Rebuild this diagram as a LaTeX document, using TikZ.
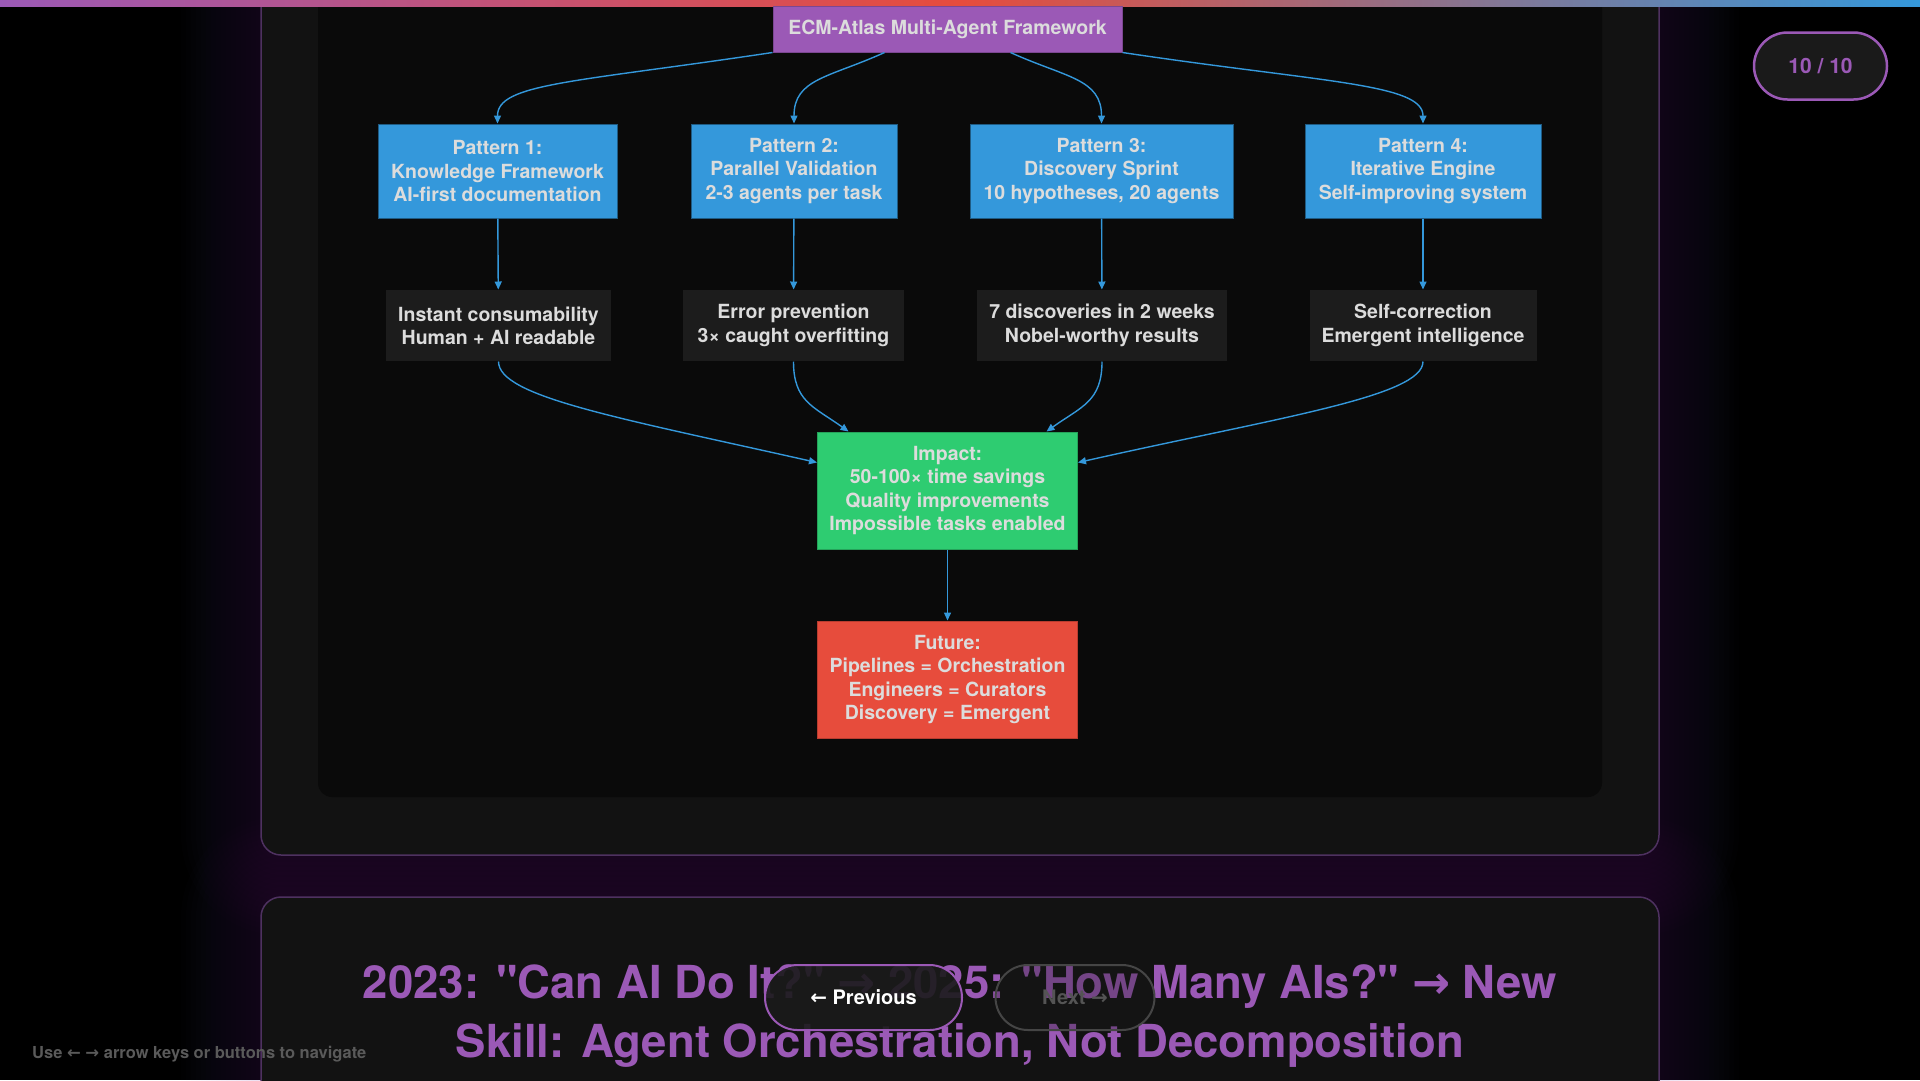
\documentclass[tikz,border=0pt]{standalone}
\usepackage{fontspec}
\usepackage{xcolor}
\usepackage{tikz}
\setmainfont{TeX Gyre Heros}[Ligatures=TeXOff]
\newfontfamily\arrowfont{DejaVu Sans}
\usetikzlibrary{positioning,calc,arrows.meta}

\definecolor{panelbg}{HTML}{121212}
\definecolor{innerbg}{HTML}{0A0A0A}
\definecolor{panelline}{HTML}{4E3160}
\definecolor{accent}{HTML}{9B59B6}
\definecolor{flowblue}{HTML}{3498DB}
\definecolor{flowred}{HTML}{E74C3C}
\definecolor{flowgreen}{HTML}{2ECC71}
\definecolor{notebg}{HTML}{1C1C1C}
\definecolor{boxtext}{HTML}{DCDCDC}
\definecolor{pillbg}{HTML}{1A1A1A}
\definecolor{hinttext}{HTML}{5A5A5A}

\newcommand{\boxfont}{\fontsize{19.5}{23.3}\selectfont\bfseries}
\newcommand{\arrL}{{\arrowfont ←}}
\newcommand{\arrR}{{\arrowfont →}}

\tikzset{
  flow/.style={draw=flowblue, line width=1.4pt, -{Triangle[length=8pt,width=7pt]}},
  fbox/.style={align=center, text=boxtext, font=\boxfont, inner sep=0pt, line width=1pt},
  patternbox/.style={fbox, fill=flowblue, draw=flowblue!60!black, minimum height=94},
  notebox/.style={fbox, fill=notebg, minimum height=71},
  pill/.style={rounded corners=32.5, line width=2pt, minimum height=65, inner sep=0pt}
}

\begin{document}
\begin{tikzpicture}[x=1pt,y=-1pt]
    \useasboundingbox (0,0) rectangle (1920,1080);
    \clip (0,0) rectangle (1920,1080);
    \fill[black] (0,0) rectangle (1920,1080);

    % Glow round the panels
    \foreach \g in {5,10,...,80} {
        \fill[accent, fill opacity=0.01, rounded corners=20+\g] (261-\g,-120) rectangle (1659+\g,855+\g);
        \fill[accent, fill opacity=0.01, rounded corners=20+\g] (261-\g,897-\g) rectangle (1659+\g,1250);
    }

    % Panels
    \draw[panelline, line width=1.5pt, fill=panelbg, rounded corners=20] (261,-120) rectangle (1659,855);
    \fill[innerbg, rounded corners=14] (318,-120) rectangle (1602,797);
    \draw[panelline, line width=1.5pt, fill=panelbg, rounded corners=20] (261,897) rectangle (1659,1250);

    % Top bar
    \shade[left color=accent, right color=flowred] (0,0) rectangle (960,6);
    \shade[left color=flowred, right color=flowblue] (960,0) rectangle (1920,6);

    % Framework
    \node[fbox, fill=accent, draw=accent!80!black, minimum width=349, minimum height=46] (title) at (947.5,29) {ECM-Atlas Multi-Agent Framework};

    % Patterns and their results
    \foreach \n/\x/\w/\t in {1/497.5/239/{Pattern 1:\\Knowledge Framework\\AI-first documentation},
                             2/794/206/{Pattern 2:\\Parallel Validation\\2-3 agents per task},
                             3/1101.5/263/{Pattern 3:\\Discovery Sprint\\10 hypotheses, 20 agents},
                             4/1423/236/{Pattern 4:\\Iterative Engine\\Self-improving system}} {
        \node[patternbox, minimum width=\w] (p\n) at (\x,171) {\t};
    }
    \foreach \n/\x/\w/\t in {1/498.5/225/{Instant consumability\\Human + AI readable},
                             2/793.5/221/{Error prevention\\3× caught overfitting},
                             3/1102/250/{7 discoveries in 2 weeks\\Nobel-worthy results},
                             4/1423/227/{Self-correction\\Emergent intelligence}} {
        \node[notebox, minimum width=\w] (r\n) at (\x,325.5) {\t};
        \draw[flow] (p\n) -- (r\n);
    }

    % Impact and future
    \node[fbox, fill=flowgreen, draw=flowgreen!80!black, minimum width=260, minimum height=117] (impact) at (947.5,490.5) {Impact:\\50-100× time savings\\Quality improvements\\Impossible tasks enabled};
    \node[fbox, fill=flowred, draw=flowred!80!black, minimum width=260, minimum height=117] (future) at (947.5,679.5) {Future:\\Pipelines = Orchestration\\Engineers = Curators\\Discovery = Emergent};

    % Framework to patterns
    \draw[flow] (title.south west) .. controls +(-200,30) and +(0,-40) .. (p1.north);
    \draw[flow] ($(title.south west)!0.32!(title.south east)$) .. controls +(-55,25) and +(0,-45) .. (p2.north);
    \draw[flow] ($(title.south west)!0.68!(title.south east)$) .. controls +(55,25) and +(0,-45) .. (p3.north);
    \draw[flow] (title.south east) .. controls +(200,30) and +(0,-40) .. (p4.north);

    % Results to impact
    \draw[flow] (r1.south) .. controls +(0,35) and +(-200,-45) .. ($(impact.west)+(0,-28)$);
    \draw[flow] (r2.south) .. controls +(0,40) and +(-35,-25) .. ($(impact.north)+(-99,0)$);
    \draw[flow] (r3.south) .. controls +(0,40) and +(35,-25) .. ($(impact.north)+(99,0)$);
    \draw[flow] (r4.south) .. controls +(0,35) and +(200,-45) .. ($(impact.east)+(0,-28)$);
    \draw[flow] (impact) -- (future);

    % Slide title
    \node[align=center, text=accent, font=\fontsize{45.5}{59}\selectfont\bfseries] (headline) at (960,1016) {2023: "Can AI Do It?" \arrR{} 2025: "How Many AIs?" \arrR{} New\\Skill: Agent Orchestration, Not Decomposition};

    % Navigation
    \node[pill, fill=pillbg, fill opacity=0.9, text opacity=1, draw=accent, minimum width=197, text=white, font=\fontsize{20}{23}\selectfont\bfseries] (prev) at (863.5,997.5) {\arrL{} Previous};
    \node[pill, fill=pillbg, fill opacity=0.3, text opacity=1, draw=white!27!black, minimum width=159, text=white!33!black, font=\fontsize{20}{23}\selectfont\bfseries] (next) at (1075,997.5) {Next \arrR};
    \node[pill, fill=pillbg, draw=accent, line width=2.5pt, minimum width=133, minimum height=67, rounded corners=33.5, text=accent, font=\fontsize{21}{25}\selectfont\bfseries] (counter) at (1820.5,66) {10 / 10};
    \node[anchor=west, inner sep=0pt, text=hinttext, font=\fontsize{16.5}{19}\selectfont\bfseries] (hint) at (32,1054) {Use \arrL{} \arrR{} arrow keys or buttons to navigate};
\end{tikzpicture}
\end{document}
